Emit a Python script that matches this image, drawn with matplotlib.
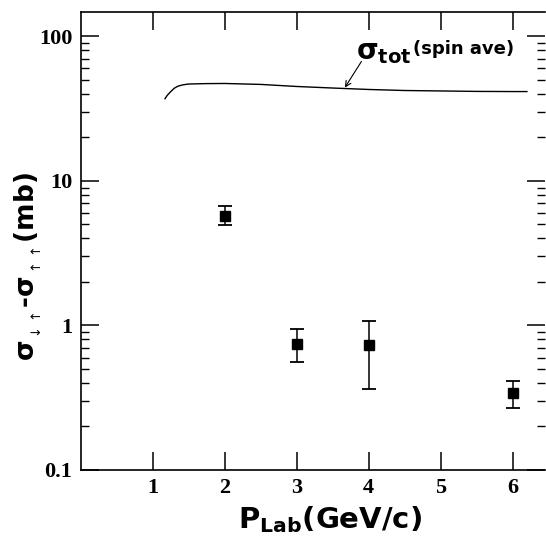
import matplotlib
matplotlib.use("Agg")
import matplotlib.pyplot as plt
from matplotlib.ticker import FixedLocator, LogLocator, NullFormatter

plt.rcParams["mathtext.fontset"] = "dejavusans"

# measured asymmetry points
p_lab = [2, 3, 4, 6]
delta_sigma = [5.7, 0.75, 0.73, 0.34]
err_low = [4.95, 0.56, 0.365, 0.27]
err_high = [6.7, 0.95, 1.08, 0.41]

# spin-averaged total cross section curve
curve_p = [1.17, 1.2, 1.25, 1.3, 1.35, 1.42, 1.5, 1.75, 2.0, 2.5, 3.0, 3.5, 4.0, 4.5, 5.0, 5.5, 6.0, 6.2]
curve_sigma = [37.0, 39.0, 41.5, 43.8, 45.2, 46.2, 46.8, 47.1, 47.2, 46.5, 45.0, 43.9, 42.9, 42.2, 41.9, 41.6, 41.5, 41.5]

x_ticks = [1, 2, 3, 4, 5, 6]
y_ticks = [0.1, 1, 10, 100]
y_tick_labels = ["0.1", "1", "10", "100"]

fig = plt.figure(figsize=(5.46, 5.38), dpi=100)
ax = fig.add_axes([0.148, 0.1264, 0.85, 0.851])

ax.set_yscale("log")
ax.set_xlim(0, 6.45)
ax.set_ylim(0.1, 147)

ax.plot(curve_p, curve_sigma, color="black", lw=1.0)

yerr = [[v - lo for v, lo in zip(delta_sigma, err_low)],
        [hi - v for v, hi in zip(delta_sigma, err_high)]]
ax.errorbar(p_lab, delta_sigma, yerr=yerr, fmt="s", color="black",
            ms=7, elinewidth=1.1, capsize=5, capthick=1.3)

# curve label with arrow
ax.annotate("", xy=(3.67, 44.2), xytext=(3.9, 67),
            arrowprops=dict(arrowstyle="->", color="black", lw=0.8,
                            shrinkA=0, shrinkB=0))
ax.text(3.83, 70, r"$\mathbf{\sigma}_{\mathbf{tot}}$", fontsize=20,
        ha="left", va="baseline")
ax.text(4.62, 75, "(spin ave)", fontsize=13, fontweight="bold",
        family="DejaVu Sans", ha="left", va="baseline")

ax.xaxis.set_major_locator(FixedLocator(x_ticks))
ax.yaxis.set_major_locator(FixedLocator(y_ticks))
ax.yaxis.set_minor_locator(LogLocator(base=10, subs=range(2, 10)))
ax.yaxis.set_minor_formatter(NullFormatter())
ax.set_yticklabels(y_tick_labels)

ax.tick_params(which="major", direction="in", length=13, width=1.1,
               top=True, right=True, labelsize=16, pad=6)
ax.tick_params(which="minor", direction="in", length=6, width=1.0,
               top=False, right=True)
for lab in ax.get_xticklabels() + ax.get_yticklabels():
    lab.set_fontfamily("Liberation Serif")
    lab.set_fontweight("bold")

ax.spines["right"].set_visible(False)
for s in ["left", "bottom", "top"]:
    ax.spines[s].set_linewidth(1.2)

ax.set_xlabel(r"$\mathbf{P}_{\mathbf{Lab}}$(GeV/c)", fontsize=21, fontweight="bold")
ax.xaxis.set_label_coords(0.537, -0.075)
ax.set_ylabel(r"$\mathbf{\sigma}_{{}_{\downarrow\uparrow}}$-$\mathbf{\sigma}_{{}_{\uparrow\uparrow}}$(mb)",
              fontsize=19, fontweight="bold")
ax.yaxis.set_label_coords(-0.08, 0.445)

fig.savefig("out.png", dpi=100)
